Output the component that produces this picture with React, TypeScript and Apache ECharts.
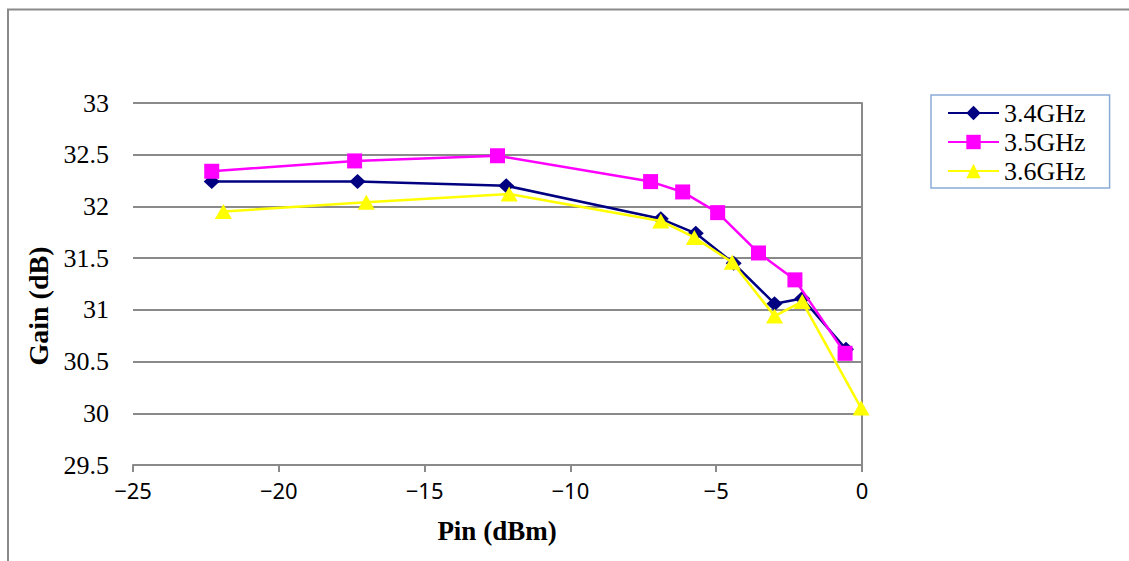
import React, { useEffect, useRef } from "react";
import * as echarts from "echarts";

const seriesNames = ["3.4GHz", "3.5GHz", "3.6GHz"];
const pin34 = [-22.3, -17.3, -12.2, -6.9, -5.7, -4.4, -3.0, -2.05, -0.55];
const gain34 = [32.24, 32.24, 32.2, 31.88, 31.74, 31.45, 31.06, 31.11, 30.62];
const pin35 = [-22.3, -17.4, -12.5, -7.25, -6.15, -4.95, -3.55, -2.3, -0.58];
const gain35 = [32.34, 32.44, 32.49, 32.24, 32.14, 31.94, 31.55, 31.29, 30.58];
const pin36 = [-21.9, -17.0, -12.1, -6.9, -5.75, -4.45, -3.0, -2.05, -0.03];
const gain36 = [31.95, 32.04, 32.12, 31.86, 31.7, 31.46, 30.94, 31.08, 30.05];
const xTicks = { min: -25, max: 0, interval: 5 };
const yTicks = { min: 29.5, max: 33, interval: 0.5 };

const colors = ["#000080", "#FF00FF", "#FFFF00"];
const symbols = ["diamond", "rect", "triangle"];
const symbolSizes: any[] = [[16, 15], 15, [17, 15]];

const SERIF = "'Liberation Serif', 'Times New Roman', serif";

export default function App() {
  const ref = useRef<HTMLDivElement>(null);
  useEffect(() => {
    if (!ref.current) return;
    const chart = echarts.init(ref.current, null, { renderer: "svg" });
    const pins = [pin34, pin35, pin36];
    const gains = [gain34, gain35, gain36];
    const gray = "#8a8a8a";
    chart.setOption({
      animation: false,
      backgroundColor: "#ffffff",
      grid: { left: 133, right: 267, top: 103, bottom: 96 },
      legend: {
        orient: "vertical",
        left: 931,
        top: 95,
        padding: [4, 24, 3, 16],
        borderColor: "#8aaad6",
        borderWidth: 1.5,
        itemWidth: 51,
        itemHeight: 18,
        itemGap: 1,
        data: seriesNames,
        textStyle: {
          fontFamily: SERIF,
          fontSize: 26,
          lineHeight: 28,
          color: "#000",
        },
      },
      xAxis: {
        type: "value",
        min: xTicks.min,
        max: xTicks.max,
        interval: xTicks.interval,
        axisLine: { show: true, onZero: false, lineStyle: { color: gray, width: 2 } },
        axisTick: { show: true, length: 7, lineStyle: { color: gray, width: 2 } },
        splitLine: { show: false },
        axisLabel: {
          margin: 14,
          fontFamily: "Noto Sans",
          fontSize: 22,
          color: "#000",
          formatter: (v: number) => String(v).replace("-", "\u2212"),
        },
      },
      yAxis: {
        type: "value",
        min: yTicks.min,
        max: yTicks.max,
        interval: yTicks.interval,
        axisLine: { show: true, lineStyle: { color: gray, width: 2 } },
        axisTick: { show: true, length: 9, lineStyle: { color: gray, width: 2 } },
        splitLine: { show: true, lineStyle: { color: gray, width: 2 } },
        axisLabel: {
          margin: 24,
          fontFamily: SERIF,
          fontSize: 26,
          color: "#000",
        },
      },
      graphic: [
        {
          type: "rect",
          shape: { x: 8, y: 9.5, width: 1300, height: 700 },
          style: { fill: "none", stroke: gray, lineWidth: 2 },
          silent: true,
        },
        {
          type: "text",
          x: 38,
          y: 306,
          rotation: Math.PI / 2,
          style: {
            text: "Gain (dB)",
            fontFamily: SERIF,
            fontWeight: "bold",
            fontSize: 28,
            fill: "#000",
            align: "center",
            verticalAlign: "middle",
          },
        },
        {
          type: "text",
          x: 497,
          y: 531,
          style: {
            text: "Pin (dBm)",
            fontFamily: SERIF,
            fontWeight: "bold",
            fontSize: 27,
            fill: "#000",
            align: "center",
            verticalAlign: "middle",
          },
        },
      ],
      series: seriesNames.map((name, i) => ({
        name,
        type: "line",
        data: pins[i].map((p, j) => [p, gains[i][j]]),
        symbol: symbols[i],
        symbolSize: symbolSizes[i],
        showAllSymbol: true,
        lineStyle: { color: colors[i], width: 2.5 },
        itemStyle: { color: colors[i], borderWidth: 0 },
        color: colors[i],
        z: 2 + i,
      })),
    });
    return () => chart.dispose();
  }, []);
  return (
    <div
      ref={ref}
      style={{ position: "absolute", left: 0, top: 0, width: 1129, height: 561 }}
    />
  );
}
